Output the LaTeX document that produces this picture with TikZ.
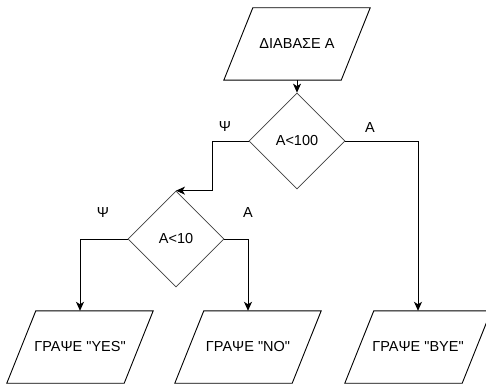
\documentclass[tikz,border=0pt]{standalone}
\usepackage{fontspec}
\setmainfont{Liberation Sans}[Ligatures=TeXOff]
\usetikzlibrary{shapes.geometric,arrows.meta}
\begin{document}
\begin{tikzpicture}[x=1pt,y=-1pt,
  font=\fontsize{14.5}{17}\selectfont,
  iobox/.style={minimum width=117pt,minimum height=72pt,inner sep=0pt},
  decision/.style={diamond,draw=black!75,line width=0.7pt,minimum width=96pt,minimum height=96pt,inner sep=0pt},
  flow/.style={draw=black,line width=0.9pt,-{Stealth[length=9pt,width=8pt,inset=2.5pt]}},
  lbl/.style={inner sep=0pt}]
\useasboundingbox (0,0) rectangle (486,387);
\node[iobox] (p0) at (297,44) {ΔΙΑΒΑΣΕ Α};
\node[decision] (d1) at (297,141) {Α<100};
\node[decision] (d2) at (176,239) {Α<10};
\node[iobox] (p1) at (80,347) {ΓΡΑΨΕ "YES"};
\node[iobox] (p2) at (248,347) {ΓΡΑΨΕ "NO"};
\node[iobox] (p3) at (418,347) {ΓΡΑΨΕ "BYE"};
\foreach \n in {p0,p1,p2,p3}{
  \draw[line width=0.9pt,line join=miter]
    ([xshift=14.5pt]\n.north west) -- ([xshift=14.5pt]\n.north east)
    -- ([xshift=-14.5pt]\n.south east) -- ([xshift=-14.5pt]\n.south west) -- cycle;
}
\draw[flow] (p0.south) -- (d1.north);
\draw[flow] (d1.west) -- ++(-36,0) |- (d2.north);
\draw[flow] (d1.east) -| (p3.north);
\draw[flow] (d2.west) -| (p1.north);
\draw[flow] (d2.east) -| (p2.north);
\node[lbl] (l1) at (225,127) {Ψ};
\node[lbl] (l2) at (370,128) {Α};
\node[lbl] (l3) at (103,213) {Ψ};
\node[lbl] (l4) at (248,213) {Α};
\end{tikzpicture}
\end{document}
